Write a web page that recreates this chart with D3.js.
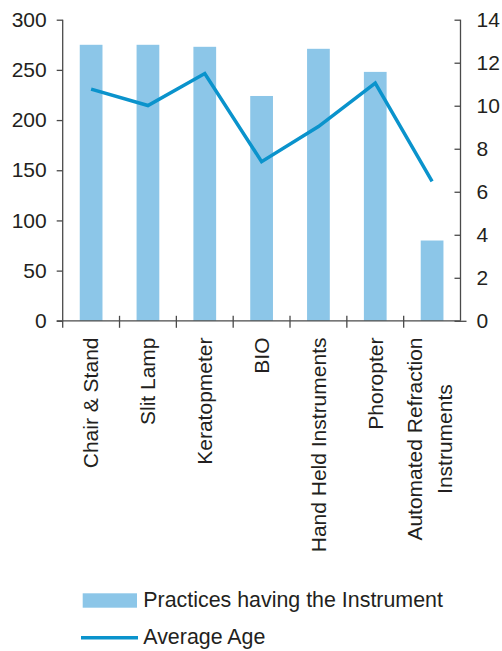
<!DOCTYPE html>
<html>
<head>
<meta charset="utf-8">
<script src="https://cdn.jsdelivr.net/npm/d3@7"></script>
<style>
  html, body { margin: 0; padding: 0; background: #fff; }
  svg { display: block; font-family: "Liberation Sans", Arial, Helvetica, sans-serif; }
</style>
</head>
<body>
<svg id="chart" width="502" height="651"></svg>
<script>
const categories = ["Chair & Stand", "Slit Lamp", "Keratopmeter", "BIO", "Hand Held Instruments", "Phoropter", "Automated Refraction|Instruments"];
const practices = [275, 275, 273, 224, 271, 248, 80];
const averageAge = [10.77, 10.01, 11.5, 7.4, 9.03, 11.05, 6.48];
const leftTicks = [0, 50, 100, 150, 200, 250, 300];
const rightTicks = [0, 2, 4, 6, 8, 10, 12, 14];
const seriesNames = ["Practices having the Instrument", "Average Age"];

const textColor = "#231f20";
const axisColor = "#4a4a4a";
const barColor = "#8cc6e8";
const lineColor = "#0a93cc";
const fontSize = 21;
const legendFontSize = 21.4;

const svg = d3.select("#chart");
const pLeft = 62.7, pRight = 460.5, pTop = 19.7, pBottom = 320.8;

const x = d3.scaleBand().domain(categories).range([pLeft, pRight]).padding(0);
const yL = d3.scaleLinear().domain([0, 300]).range([pBottom, pTop]);
const yR = d3.scaleLinear().domain([0, 14]).range([pBottom, pTop]);
const bw = x.bandwidth();

// Bars
svg.append("g").selectAll("rect").data(categories).join("rect")
  .attr("x", (d) => x(d) + bw * 0.3)
  .attr("width", bw * 0.4)
  .attr("y", (d, i) => yL(practices[i]))
  .attr("height", (d, i) => yL(0) - yL(practices[i]))
  .attr("fill", barColor);

// Left axis
const gL = svg.append("g").attr("transform", `translate(${pLeft},0)`)
  .call(d3.axisLeft(yL).tickValues(leftTicks).tickSize(6).tickPadding(10).tickFormat(d3.format("d")));
// Right axis
const gR = svg.append("g").attr("transform", `translate(${pRight},0)`)
  .call(d3.axisRight(yR).tickValues(rightTicks).tickSize(0).tickPadding(16).tickFormat(d3.format("d")));
gR.selectAll(".tick line").remove();
gR.selectAll(".tick").append("line").attr("x1", -6).attr("x2", d => d === 0 ? 6 : 0);

[gL, gR].forEach(g => {
  g.select(".domain").attr("stroke", axisColor).attr("stroke-width", 1.3)
    .attr("d", `M0,${pTop}V${pBottom}`);
  g.selectAll(".tick line").attr("stroke", axisColor).attr("stroke-width", 1.3);
  g.selectAll(".tick text").attr("fill", textColor).style("font-size", fontSize + "px")
    .style("font-family", '"Liberation Sans", Arial, sans-serif');
});

// Bottom axis
const gB = svg.append("g");
gB.append("line").attr("x1", pLeft - 6).attr("x2", pRight).attr("y1", pBottom).attr("y2", pBottom)
  .attr("stroke", axisColor).attr("stroke-width", 1.3);
const edges = categories.map(c => x(c)).concat([x(categories[categories.length - 1]) + bw]);
gB.selectAll("line.tk").data(edges.slice(1, -1)).join("line").attr("class", "tk")
  .attr("x1", d => d).attr("x2", d => d).attr("y1", pBottom - 5).attr("y2", pBottom + 7)
  .attr("stroke", axisColor).attr("stroke-width", 1.3);
gB.append("line").attr("x1", pLeft).attr("x2", pLeft).attr("y1", pBottom).attr("y2", pBottom + 7)
  .attr("stroke", axisColor).attr("stroke-width", 1.3);

// Category labels
const labTop = 337.5;
categories.forEach((c) => {
  const lines = c.split("|");
  const cx = x(c) + bw / 2;
  const g = svg.append("g").attr("transform", `translate(${cx},${labTop}) rotate(-90)`);
  const texts = lines.map((ln, j) => g.append("text")
    .attr("fill", textColor).style("font-size", fontSize + "px")
    .attr("y", 7.3 + (j - (lines.length - 1) / 2) * 30 - (lines.length > 1 ? 2 : 0))
    .text(ln));
  const maxW = d3.max(texts, t => t.node().getComputedTextLength());
  texts.forEach(t => t.attr("text-anchor", "middle").attr("x", -maxW / 2));
});

// Line
const line = d3.line().x((d, i) => x(categories[i]) + bw / 2).y(d => yR(d));
svg.append("path").datum(averageAge).attr("d", line)
  .attr("fill", "none").attr("stroke", lineColor).attr("stroke-width", 3.5)
  .attr("stroke-linejoin", "miter");

// Legend
const lg = svg.append("g");
lg.append("rect").attr("x", 82.7).attr("y", 593.3).attr("width", 54.3).attr("height", 14.4).attr("fill", barColor);
lg.append("text").attr("x", 143.3).attr("y", 607).attr("fill", textColor).style("font-size", legendFontSize + "px").text(seriesNames[0]);
lg.append("line").attr("x1", 81).attr("x2", 138).attr("y1", 637.7).attr("y2", 637.7)
  .attr("stroke", lineColor).attr("stroke-width", 3.5);
lg.append("text").attr("x", 143.3).attr("y", 644.3).attr("fill", textColor).style("font-size", legendFontSize + "px").text(seriesNames[1]);
</script>
</body>
</html>
